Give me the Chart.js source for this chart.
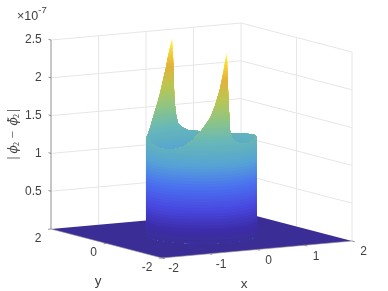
<!DOCTYPE html>
<html>
<head>
<meta charset="utf-8">
<style>
  html, body { margin: 0; padding: 0; background: #fff; }
  canvas { display: block; filter: blur(0.35px); }
</style>
<script src="https://cdn.jsdelivr.net/npm/chart.js@4"></script>
</head>
<body>
<canvas id="chart" width="388" height="291"></canvas>
<script>
// Tick labels
const xTicks = [-2, -1, 0, 1, 2];
const yTicks = [2, 0, -2];
const zTicks = [0.5, 1, 1.5, 2, 2.5];

// Height of the step along the rim of the unit circle (units of 1e-7).
// Angles in degrees, back half of the rim, left silhouette round to right silhouette
const backAngles = [150, 140, 130, 125, 120, 117, 112, 108, 104, 100, 97, 94, 92, 90.5, 89.4, 87.7, 85, 80, 74, 60, 50, 40, 28, 20, 9, 0, -10, -20, -30];
const backHeights = [1.30, 1.29, 1.36, 1.44, 1.53, 1.59, 1.70, 1.82, 1.97, 2.13, 2.29, 2.42, 2.51, 2.18, 1.73, 1.52, 1.38, 1.32, 1.28, 1.26, 1.26, 1.25, 1.25, 1.26, 1.28, 1.28, 1.29, 1.30, 1.30];
// Front half of the rim, same silhouettes
const frontAngles = [-210, -200, -190, -180, -170, -160, -150, -140, -129, -120, -111, -106, -101, -97, -94.5, -92.7, -91.2, -89.1, -87, -82, -75, -65, -60, -50, -40, -30];
const frontHeights = [1.30, 1.30, 1.27, 1.24, 1.22, 1.22, 1.23, 1.27, 1.37, 1.50, 1.66, 1.82, 2.02, 2.25, 2.42, 2.51, 1.93, 1.48, 1.38, 1.32, 1.29, 1.27, 1.27, 1.28, 1.29, 1.30];

// Colour bar, z value against colour
const colorLevels = [0, 0.17, 0.44, 0.74, 1.0, 1.19, 1.35, 1.6, 1.9, 2.15, 2.35, 2.5];
const colorStops = [[58, 46, 150], [60, 45, 170], [72, 72, 224], [74, 114, 240], [85, 160, 216], [95, 175, 195], [104, 184, 184], [140, 196, 136], [188, 198, 80], [226, 178, 60], [246, 212, 60], [254, 248, 70]];
const bandCount = 64;
const zMax = 2.5;

// View: what one unit of x, y and z does on the two hidden scales
const viewCenter = [201.5, 56];
const xStep = [47.5, 4.25];
const yStep = [-27.75, 7.25];
const zStep = 75.6;

function project(x, y, z) {
    return {
        x: viewCenter[0] + x * xStep[0] + y * yStep[0],
        y: viewCenter[1] + x * xStep[1] + y * yStep[1] + z * zStep
    };
}

function rimPoint(angle, z) {
    const a = angle * Math.PI / 180;
    return project(Math.cos(a), Math.sin(a), z);
}

function colorFor(z) {
    let i = 0;
    while (i < colorLevels.length - 2 && z > colorLevels[i + 1]) i++;
    const t = (z - colorLevels[i]) / (colorLevels[i + 1] - colorLevels[i]);
    const c = colorStops[i].map((v, k) => Math.round(v + (colorStops[i + 1][k] - v) * t));
    return `rgb(${c[0]},${c[1]},${c[2]})`;
}

function lineSet(points, color, width) {
    return { data: points, showLine: true, fill: false, borderColor: color, borderWidth: width, pointRadius: 0 };
}

function shapeSet(points, color) {
    return { data: points, showLine: true, fill: 'shape', backgroundColor: color, borderWidth: 0, pointRadius: 0 };
}

// Wall from the floor up to min(level, rim), cut where the rim crosses the level
function wallShape(angles, heights, level) {
    const top = [];
    angles.forEach((angle, i) => {
        if (i > 0) {
            const a = heights[i - 1], b = heights[i];
            if ((a - level) * (b - level) < 0) {
                const t = (level - a) / (b - a);
                top.push(rimPoint(angles[i - 1] + (angle - angles[i - 1]) * t, level));
            }
        }
        top.push(rimPoint(angle, Math.min(level, heights[i])));
    });
    const bottom = angles.slice().reverse().map(angle => rimPoint(angle, 0));
    return top.concat(bottom);
}

// Highest band first, every lower band paints over it
function wallSets(angles, heights) {
    const sets = [];
    for (let k = bandCount; k >= 1; k--) {
        const level = zMax * k / bandCount;
        sets.push(shapeSet(wallShape(angles, heights, level), colorFor(level - zMax / bandCount / 2)));
    }
    return sets;
}

const gridColor = '#e6e6e6';
const axisColor = '#8f8f8f';
const paintList = [];

// Back walls
zTicks.forEach(z => {
    paintList.push(lineSet([project(-2, 2, z), project(2, 2, z), project(2, -2, z)], gridColor, 1));
});
xTicks.slice(1).forEach(x => {
    paintList.push(lineSet([project(x, 2, 0), project(x, 2, zMax)], gridColor, 1));
});
yTicks.slice(1).forEach(y => {
    paintList.push(lineSet([project(2, y, 0), project(2, y, zMax)], gridColor, 1));
});

// Floor
paintList.push(shapeSet([project(-2, 2, 0), project(2, 2, 0), project(2, -2, 0), project(-2, -2, 0)], colorFor(0)));

// Axes and ticks
paintList.push(lineSet([project(-2, 2, 0), project(-2, 2, zMax)], axisColor, 1));
paintList.push(lineSet([project(-2, 2, 0), project(-2, -2, 0), project(2, -2, 0)], axisColor, 0.6));
zTicks.forEach(z => paintList.push(lineSet([project(-2, 2, z), project(-2, 2.09, z)], axisColor, 1)));
xTicks.forEach(x => paintList.push(lineSet([project(x, -2, 0), project(x, -2.1, 0)], axisColor, 1)));
yTicks.forEach(y => paintList.push(lineSet([project(-2, y, 0), project(-2.06, y, 0)], axisColor, 1)));

// The step itself, back half then front half
wallSets(backAngles, backHeights).forEach(s => paintList.push(s));
wallSets(frontAngles, frontHeights).forEach(s => paintList.push(s));

// Chart.js paints dataset 0 last
const datasets = paintList.reverse();

// Axis texts are placed through the same hidden scales
const axisText = {
    id: 'axisText',
    afterDraw(chart) {
        const ctx = chart.ctx;
        const sx = chart.scales.x, sy = chart.scales.y;
        const put = (p, dx, dy, text, align, font) => {
            ctx.font = font;
            ctx.textAlign = align;
            ctx.fillText(text, sx.getPixelForValue(p.x) + dx, sy.getPixelForValue(p.y) + dy);
        };
        const tickFont = '12px "Liberation Sans"';
        ctx.save();
        ctx.fillStyle = '#404040';
        ctx.textBaseline = 'middle';
        zTicks.forEach(z => put(project(-2, 2, z), -9.3, 0, String(z), 'right', tickFont));
        yTicks.forEach(y => put(project(-2, y, 0), -9.5, 9.5, String(y), 'right', tickFont));
        xTicks.forEach(x => put(project(x, -2, 0), 11.5, 11, String(x), 'center', tickFont));
        put(project(-2, -2, 0), 82, 26, 'x', 'center', '13.5px "Liberation Sans"');
        put(project(-2, 0, 0), -8.5, 38, 'y', 'center', '13.5px "Liberation Sans"');

        // Exponent
        const top = project(-2, 2, zMax);
        put(top, -23.5, -23, '\u00d710', 'center', '12.5px "Liberation Sans"');
        put(top, -8.5, -30, '-7', 'center', '9.5px "Liberation Sans"');

        // z label, rotated
        const mid = project(-2, 2, 1.25);
        ctx.translate(sx.getPixelForValue(mid.x) - 37.5, sy.getPixelForValue(mid.y));
        ctx.rotate(-Math.PI / 2);
        const phi = 'italic 12px "DejaVu Serif"';
        const sub = '8px "Liberation Serif"';
        const plain = '13px "Liberation Serif"';
        const piece = (x, y, text, font) => {
            ctx.font = font;
            ctx.textAlign = 'left';
            ctx.fillText(text, x, y);
        };
        piece(-25, 0, '|', '15px "Liberation Serif"');
        piece(-19, 0, '\u03d5', phi);
        piece(-11.5, 3, '2', sub);
        piece(-4, 0, '\u2212', plain);
        piece(9, 0, '\u03d5\u0303', phi);
        piece(16.5, 3, '2', sub);
        piece(22.5, 0, '|', '15px "Liberation Serif"');
        ctx.restore();
    }
};

new Chart(document.getElementById('chart'), {
    type: 'scatter',
    data: { datasets: datasets },
    options: {
        responsive: false,
        animation: false,
        events: [],
        layout: { padding: 0 },
        plugins: { legend: { display: false }, tooltip: { enabled: false } },
        scales: {
            x: { type: 'linear', min: 0, max: 388, display: false },
            y: { type: 'linear', min: 0, max: 291, display: false }
        }
    },
    plugins: [axisText]
});
</script>
</body>
</html>
